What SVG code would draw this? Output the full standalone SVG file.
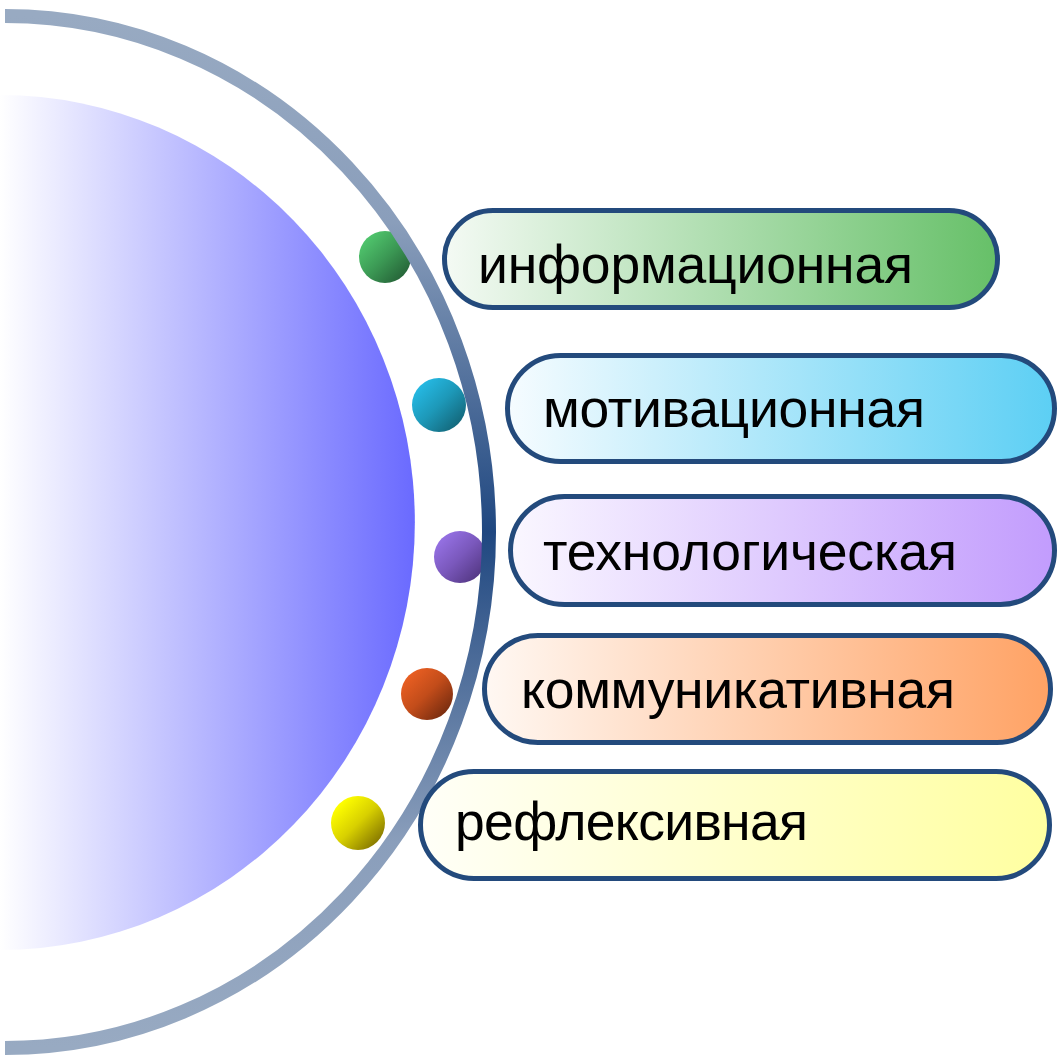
<svg xmlns="http://www.w3.org/2000/svg" width="1058" height="1056" viewBox="0 0 1058 1056">
<defs>
  <linearGradient id="gDisk" gradientUnits="userSpaceOnUse" x1="0" y1="0" x2="415" y2="0">
    <stop offset="0" stop-color="#ffffff"/>
    <stop offset="1" stop-color="#6a6aff"/>
  </linearGradient>
  <linearGradient id="gArc" gradientUnits="userSpaceOnUse" x1="0" y1="16" x2="0" y2="1048">
    <stop offset="0" stop-color="#98aac2"/>
    <stop offset="0.2" stop-color="#8a9ebb"/>
    <stop offset="0.5" stop-color="#1f4780"/>
    <stop offset="0.8" stop-color="#8a9ebb"/>
    <stop offset="1" stop-color="#98aac2"/>
  </linearGradient>
  <linearGradient id="pGreen" x1="0" y1="0" x2="1" y2="0">
    <stop offset="0" stop-color="#f4faf4"/>
    <stop offset="1" stop-color="#66c068"/>
  </linearGradient>
  <linearGradient id="pCyan" x1="0" y1="0" x2="1" y2="0">
    <stop offset="0" stop-color="#f6fcff"/>
    <stop offset="1" stop-color="#5ccff4"/>
  </linearGradient>
  <linearGradient id="pPurple" x1="0" y1="0" x2="1" y2="0">
    <stop offset="0" stop-color="#faf7ff"/>
    <stop offset="1" stop-color="#c29cfd"/>
  </linearGradient>
  <linearGradient id="pOrange" x1="0" y1="0" x2="1" y2="0">
    <stop offset="0" stop-color="#fff8f3"/>
    <stop offset="1" stop-color="#ffa264"/>
  </linearGradient>
  <linearGradient id="pYellow" x1="0" y1="0" x2="1" y2="0">
    <stop offset="0" stop-color="#fffff8"/>
    <stop offset="1" stop-color="#ffffa0"/>
  </linearGradient>
  <linearGradient id="bGreen" x1="0.15" y1="0.15" x2="0.85" y2="0.85">
    <stop offset="0" stop-color="#4fc46c"/>
    <stop offset="0.5" stop-color="#3c9a55"/>
    <stop offset="1" stop-color="#27673a"/>
  </linearGradient>
  <linearGradient id="bCyan" x1="0.15" y1="0.15" x2="0.85" y2="0.85">
    <stop offset="0" stop-color="#25b8e2"/>
    <stop offset="0.5" stop-color="#1d98b8"/>
    <stop offset="1" stop-color="#146a7e"/>
  </linearGradient>
  <linearGradient id="bPurple" x1="0.15" y1="0.15" x2="0.85" y2="0.85">
    <stop offset="0" stop-color="#9470e2"/>
    <stop offset="0.5" stop-color="#7a58bc"/>
    <stop offset="1" stop-color="#573a88"/>
  </linearGradient>
  <linearGradient id="bOrange" x1="0.15" y1="0.15" x2="0.85" y2="0.85">
    <stop offset="0" stop-color="#e85e22"/>
    <stop offset="0.5" stop-color="#c24c1a"/>
    <stop offset="1" stop-color="#7c2e10"/>
  </linearGradient>
  <linearGradient id="bYellow" x1="0.15" y1="0.15" x2="0.85" y2="0.85">
    <stop offset="0" stop-color="#ffff00"/>
    <stop offset="0.5" stop-color="#d8d000"/>
    <stop offset="1" stop-color="#8a7c00"/>
  </linearGradient>
</defs>
<style>
  .pill { stroke: #234a7c; stroke-width: 5; }
  .lbl { font-family: "Liberation Sans", Arial, sans-serif; font-size: 53.5px; fill: #000000; }
</style>

<g id="disk">
  <path d="M 0 95 A 415 427.5 0 0 1 0 950 Z" fill="url(#gDisk)"/>
</g>

<g id="balls">
  <circle id="ball1" cx="385" cy="257" r="26" fill="url(#bGreen)"/>
  <circle id="ball2" cx="439" cy="405" r="27" fill="url(#bCyan)"/>
  <circle id="ball3" cx="460" cy="557" r="26" fill="url(#bPurple)"/>
  <circle id="ball4" cx="427" cy="694" r="26" fill="url(#bOrange)"/>
  <circle id="ball5" cx="358" cy="823" r="27" fill="url(#bYellow)"/>
</g>

<g id="connectors">
  <path d="M 5 16 A 484 516 0 0 1 5 1048" fill="none" stroke="url(#gArc)" stroke-width="14"/>
</g>

<g id="node1">
  <rect class="pill" x="444.5" y="210.5" width="553" height="97" rx="48.5" fill="url(#pGreen)"/>
  <text class="lbl" x="478" y="283" textLength="435">информационная</text>
</g>
<g id="node2">
  <rect class="pill" x="507.5" y="355.5" width="547" height="106" rx="53" fill="url(#pCyan)"/>
  <text class="lbl" x="543" y="427" textLength="382">мотивационная</text>
</g>
<g id="node3">
  <rect class="pill" x="510.5" y="496.5" width="544" height="108" rx="54" fill="url(#pPurple)"/>
  <text class="lbl" x="543" y="570" textLength="414">технологическая</text>
</g>
<g id="node4">
  <rect class="pill" x="484.5" y="635.5" width="566" height="107" rx="53.5" fill="url(#pOrange)"/>
  <text class="lbl" x="521" y="708" textLength="434">коммуникативная</text>
</g>
<g id="node5">
  <rect class="pill" x="420.5" y="771.5" width="629" height="107" rx="53.5" fill="url(#pYellow)"/>
  <text class="lbl" x="455" y="840" textLength="353">рефлексивная</text>
</g>
</svg>
